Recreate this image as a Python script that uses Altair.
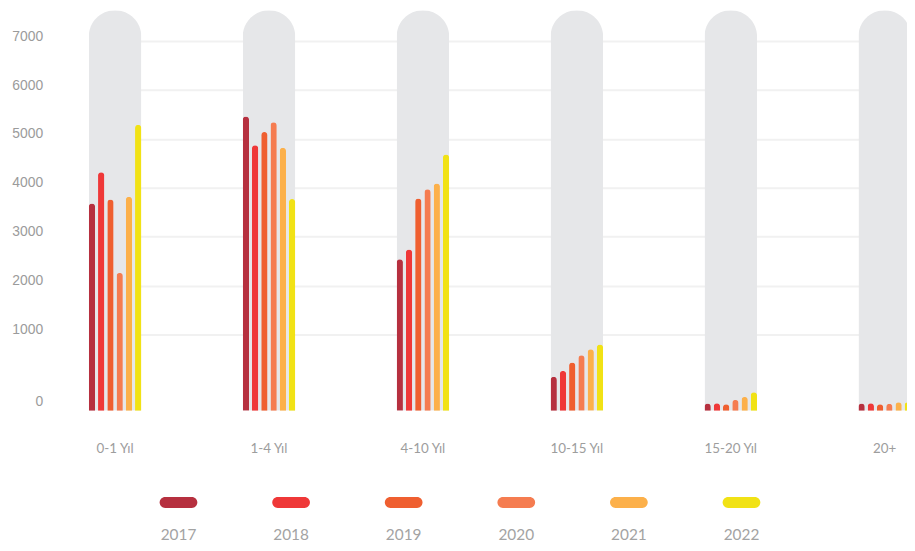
import altair as alt
import pandas as pd

groups = ["0-1 Yıl", "1-4 Yıl", "4-10 Yıl", "10-15 Yıl", "15-20 Yıl", "20+"]
years = ["2017", "2018", "2019", "2020", "2021", "2022"]
colors = ["#b6303f", "#ef3838", "#ef5f30", "#f57c50", "#fcb04a", "#f1e215"]

v2017 = [3680, 5460, 2540, 445, 95, 95]
v2018 = [4320, 4870, 2740, 523, 100, 100]
v2019 = [3760, 5140, 3780, 632, 87, 87]
v2020 = [2260, 5340, 3970, 727, 143, 91]
v2021 = [3820, 4820, 4090, 805, 182, 113]
v2022 = [5290, 3770, 4680, 870, 243, 113]

y_ticks = [0, 1000, 2000, 3000, 4000, 5000, 6000, 7000]
track_top = 7630

series = {"2017": v2017, "2018": v2018, "2019": v2019,
          "2020": v2020, "2021": v2021, "2022": v2022}
rows = []
for y in years:
    for g, v in zip(groups, series[y]):
        rows.append({"group": g, "year": y, "value": v})
df = pd.DataFrame(rows)
df_track = pd.DataFrame({"group": groups, "top": [track_top] * len(groups)})
df_leg = pd.DataFrame({"year": years})

W, H = 827, 404

yscale = alt.Scale(domain=[0, 1000, track_top], range=[H, 327, 0], nice=False)
xscale = alt.Scale(domain=groups, range=[1.5, 831.0], paddingInner=0.6587, paddingOuter=0)
cscale = alt.Scale(domain=years, range=colors)

y_axis = alt.Axis(
    values=y_ticks, format="d", title=None, domain=False, ticks=False, tickSize=0,
    labelPadding=45, labelFont="Liberation Sans", labelFontSize=14, labelColor="#9b9b9b",
    labelExpr="datum.value === 0 ? '0\u00a0\u00a0' : datum.label",
    labelOffset={"condition": {"test": "datum.value === 0", "value": -9}, "value": -5},
    gridColor={"condition": {"test": "datum.value === 0", "value": "transparent"}, "value": "#f1f1f1"},
    gridWidth=2,
)
x_axis = alt.Axis(
    title=None, domain=False, ticks=False, tickSize=0, labelAngle=0, labelPadding=31,
    labelFont="Lato", labelFontSize=13.5, labelColor="#9d9d9d", grid=False,
)

track = alt.Chart(df_track).mark_bar(
    color="#e6e7e9", cornerRadiusTopLeft=26.5, cornerRadiusTopRight=26.5
).encode(
    x=alt.X("group:N", sort=groups, scale=xscale, axis=x_axis),
    y=alt.Y("top:Q", scale=yscale, axis=y_axis),
)

bars = alt.Chart(df).mark_bar(
    cornerRadiusTopLeft=3.2, cornerRadiusTopRight=3.2
).encode(
    x=alt.X("group:N", sort=groups, scale=xscale, axis=None),
    xOffset=alt.XOffset("year:N", sort=years, scale=alt.Scale(paddingInner=0.32, paddingOuter=0)),
    y=alt.Y("value:Q", scale=yscale, axis=y_axis),
    color=alt.Color("year:N", scale=cscale, legend=None),
)

lscale = alt.Scale(type="point", domain=years, range=[92.0, 660.0], padding=0)

swatch = alt.Chart(df_leg).mark_bar(width=38, cornerRadius=5.5).encode(
    x=alt.X("year:N", sort=years, scale=lscale, axis=None),
    y=alt.value(491),
    y2=alt.value(502),
    color=alt.Color("year:N", scale=cscale, legend=None),
)
labels = alt.Chart(df_leg).mark_text(
    font="Lato", fontSize=15.5, color="#a3a3a3", baseline="middle", align="center"
).encode(
    x=alt.X("year:N", sort=years, scale=lscale, axis=None),
    y=alt.value(529),
    text="year:N",
)

chart = alt.layer(track, bars, swatch, labels).resolve_scale(x="independent").properties(
    width=W, height=H,
    autosize=alt.AutoSizeParams(type="none"),
    padding={"left": 80, "top": 0, "right": 0, "bottom": 134},
    background="white",
).configure_view(stroke=None)

chart.save("out.html", embed_options={"renderer": "svg", "actions": False})
